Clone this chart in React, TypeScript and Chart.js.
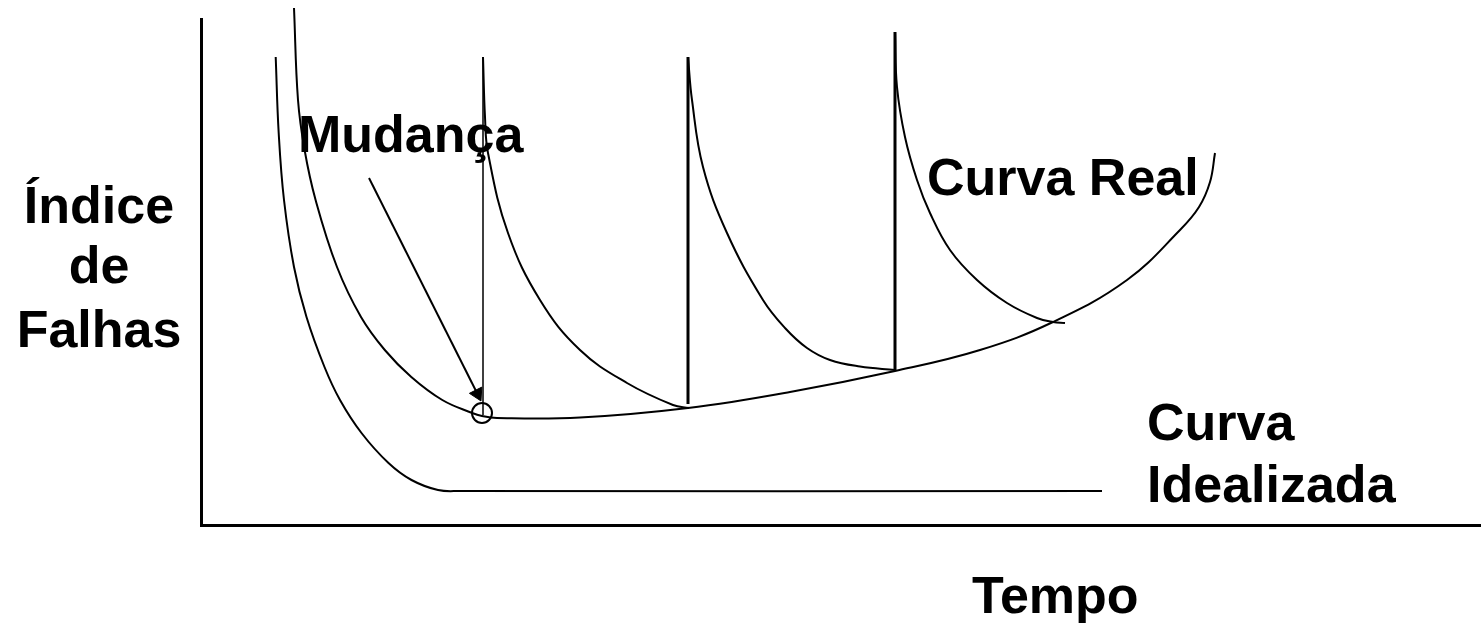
import React, { useEffect, useRef } from "react";
import { Chart, registerables } from "chart.js";

Chart.register(...registerables);

// Data units: x = time, y = failure rate (arbitrary units)
const idealX = [74.7, 77.7, 83, 93, 105.5, 123.5, 139, 160.5, 187.5, 210.5, 237, 259, 901];
const idealY = [468, 392, 325, 258, 208, 158, 125, 92, 62, 45, 35, 34, 34];

const realX = [93, 97, 103.6, 114.6, 136, 160, 183.8, 210.3, 241.3, 271.2, 281, 296, 379, 487, 589, 694, 779, 852, 926, 979, 998, 1009, 1014];
const realY = [517, 425, 375, 325, 258, 208, 175, 148, 125, 112, 109, 107, 107.5, 117, 133, 154, 175, 203, 245, 295, 318, 343, 372];

const spike1X = [282, 282];
const spike1Y = [468, 110];
const decay1X = [282, 284, 287, 307, 339, 379, 426, 472, 488];
const decay1Y = [468, 408, 372, 292, 225, 175, 142, 120, 117];

const spike2X = [487, 487];
const spike2Y = [468, 121];
const decay2X = [487, 491, 502, 526, 562, 584, 606, 629, 659, 694];
const decay2Y = [468, 425, 358, 292, 225, 197, 177, 165, 158.5, 155];

const spike3X = [694, 694];
const spike3Y = [493, 155];
const decay3X = [694, 696, 704, 716, 729, 749, 776, 806, 836, 852, 864];
const decay3Y = [493, 438, 388, 345, 312, 275, 245, 222, 207, 203, 202];

const arrowX = [168, 276.4];
const arrowY = [347, 131.2];
const changeX = [281];
const changeY = [112];

const labelTexts = ["Mudança", "Curva Real", "Curva", "Idealizada", "Tempo", "Índice", "de", "Falhas"];
const labelX = [97, 726, 946, 946, 771, -102, -102, -102];
const labelY = [373, 330, 85, 23, -88, 302, 242, 178];
const labelAlign = ["left", "left", "left", "left", "left", "center", "center", "center"];

const pts = (xs: number[], ys: number[]) => xs.map((x, i) => ({ x, y: ys[i] }));

const curve = (xs: number[], ys: number[], width = 2) => ({
  data: pts(xs, ys),
  borderColor: "#000",
  borderWidth: width,
  pointRadius: 0,
  fill: false,
  tension: 0.4,
  clip: false as const,
});

const straight = (xs: number[], ys: number[], width = 2) => ({
  data: pts(xs, ys),
  borderColor: "#000",
  borderWidth: width,
  pointRadius: 0,
  fill: false,
  tension: 0,
  clip: false as const,
});

const labelPlugin = {
  id: "labels",
  afterDraw(chart: any) {
    const { ctx, scales } = chart;
    ctx.save();
    ctx.fillStyle = "#000";
    ctx.font = 'bold 52px "Liberation Sans", Arial, sans-serif';
    ctx.textBaseline = "alphabetic";
    labelTexts.forEach((t, i) => {
      ctx.textAlign = labelAlign[i];
      ctx.fillText(t, scales.x.getPixelForValue(labelX[i]), scales.y.getPixelForValue(labelY[i]));
    });
    ctx.restore();
  },
};

export default function App() {
  const ref = useRef<HTMLCanvasElement>(null);
  useEffect(() => {
    document.body.style.margin = "0";
    const chart = new Chart(ref.current!, {
      type: "line",
      data: {
        datasets: [
          curve(idealX, idealY),
          curve(realX, realY),
          straight(spike1X, spike1Y, 1.5),
          curve(decay1X, decay1Y),
          straight(spike2X, spike2Y, 3),
          curve(decay2X, decay2Y),
          straight(spike3X, spike3Y, 3),
          curve(decay3X, decay3Y),
          {
            ...straight(arrowX, arrowY, 2),
            pointRadius: [0, 8],
            pointStyle: "triangle",
            rotation: 153.3,
            pointBackgroundColor: "#000",
            pointBorderColor: "#000",
            pointBorderWidth: 1,
          },
          {
            data: pts(changeX, changeY),
            showLine: false,
            pointStyle: "circle",
            pointRadius: 10,
            pointBorderWidth: 2,
            pointBorderColor: "#000",
            pointBackgroundColor: "rgba(0,0,0,0)",
            clip: false,
          } as any,
        ],
      },
      options: {
        responsive: false,
        animation: false,
        devicePixelRatio: 1,
        events: [],
        layout: { autoPadding: false, padding: { left: 201, top: 19, bottom: 98, right: 0 } },
        plugins: { legend: { display: false }, tooltip: { enabled: false } },
        scales: {
          x: {
            type: "linear",
            min: 0,
            max: 1280,
            ticks: { display: false },
            grid: { display: false, drawTicks: false },
            border: { display: true, color: "#000", width: 3 },
          },
          y: {
            type: "linear",
            min: 0,
            max: 506,
            ticks: { display: false },
            grid: { display: false, drawTicks: false },
            border: { display: true, color: "#000", width: 3 },
          },
        },
      },
      plugins: [labelPlugin],
    } as any);
    return () => chart.destroy();
  }, []);
  return <canvas ref={ref} width={1481} height={623} style={{ display: "block" }} />;
}
